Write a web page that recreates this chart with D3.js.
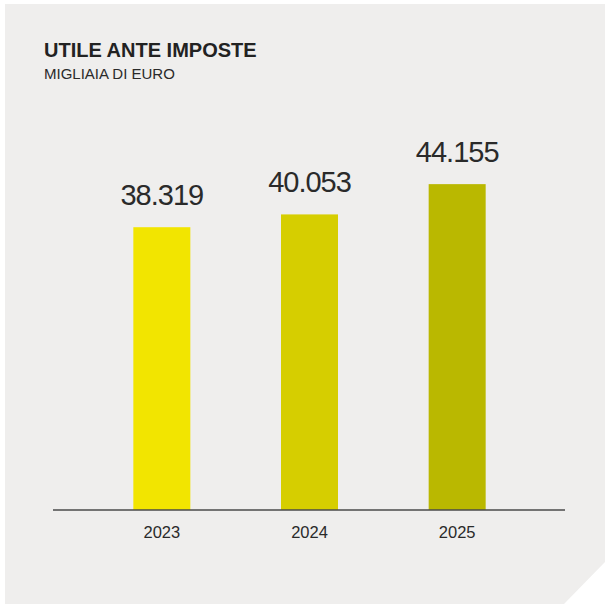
<!DOCTYPE html>
<html>
<head>
<meta charset="utf-8">
<script src="https://cdn.jsdelivr.net/npm/d3@7/dist/d3.min.js"></script>
<style>
  html, body { margin: 0; padding: 0; background: #ffffff; }
  svg { display: block; }
</style>
</head>
<body>
<svg id="chart" width="605" height="604"></svg>
<script>
// Utile ante imposte, migliaia di euro
const years = ["2023", "2024", "2025"];
const values = [38319, 40053, 44155];
const valueLabels = ["38.319", "40.053", "44.155"];
const barColors = ["#f2e500", "#d6ce00", "#bab800"];

const title = "UTILE ANTE IMPOSTE";
const subtitle = "MIGLIAIA DI EURO";

const W = 605, H = 604;
const svg = d3.select("#chart");
const font = "'Liberation Sans', Arial, sans-serif";

// panel with a clipped bottom-right corner
const cut = 41;
svg.append("path")
  .attr("d", `M5,4 H${W} V${H - cut - 1} L${W - cut},${H} H5 Z`)
  .attr("fill", "#efeeed");

svg.append("text")
  .attr("x", 44).attr("y", 57)
  .attr("font-family", font).attr("font-size", 20).attr("font-weight", 700)
  .attr("fill", "#222222")
  .text(title);

svg.append("text")
  .attr("x", 44).attr("y", 79)
  .attr("font-family", font).attr("font-size", 15)
  .attr("fill", "#2a2a2a")
  .text(subtitle);

const x = d3.scaleBand()
  .domain(years)
  .range([88, 531])
  .paddingInner(0.614)
  .paddingOuter(0.307);

const y = d3.scaleLinear()
  .domain([0, 50000])
  .range([510, 141]);

const data = years.map((yr, i) => ({ year: yr, value: values[i], label: valueLabels[i], color: barColors[i] }));

svg.append("g").selectAll("rect")
  .data(data)
  .join("rect")
  .attr("x", d => x(d.year))
  .attr("y", d => y(d.value))
  .attr("width", x.bandwidth())
  .attr("height", d => y(0) - y(d.value))
  .attr("fill", d => d.color);

svg.append("g").selectAll("text")
  .data(data)
  .join("text")
  .attr("x", d => x(d.year) + x.bandwidth() / 2)
  .attr("y", d => y(d.value) - 22)
  .attr("text-anchor", "middle")
  .attr("font-family", font).attr("font-size", 29)
  .attr("letter-spacing", "-1px")
  .attr("fill", "#2a2a2a")
  .text(d => d.label);

// x axis: baseline and year labels
const axis = d3.axisBottom(x).tickSize(0).tickPadding(16);
const gx = svg.append("g")
  .attr("transform", `translate(0,${y(0)})`)
  .call(axis);
gx.select(".domain").remove();
gx.selectAll("text")
  .attr("font-family", font).attr("font-size", 16.5)
  .attr("fill", "#2a2a2a");

svg.append("line")
  .attr("x1", 53).attr("x2", 565)
  .attr("y1", y(0)).attr("y2", y(0))
  .attr("stroke", "#4a4a4a").attr("stroke-width", 1.5);
</script>
</body>
</html>
